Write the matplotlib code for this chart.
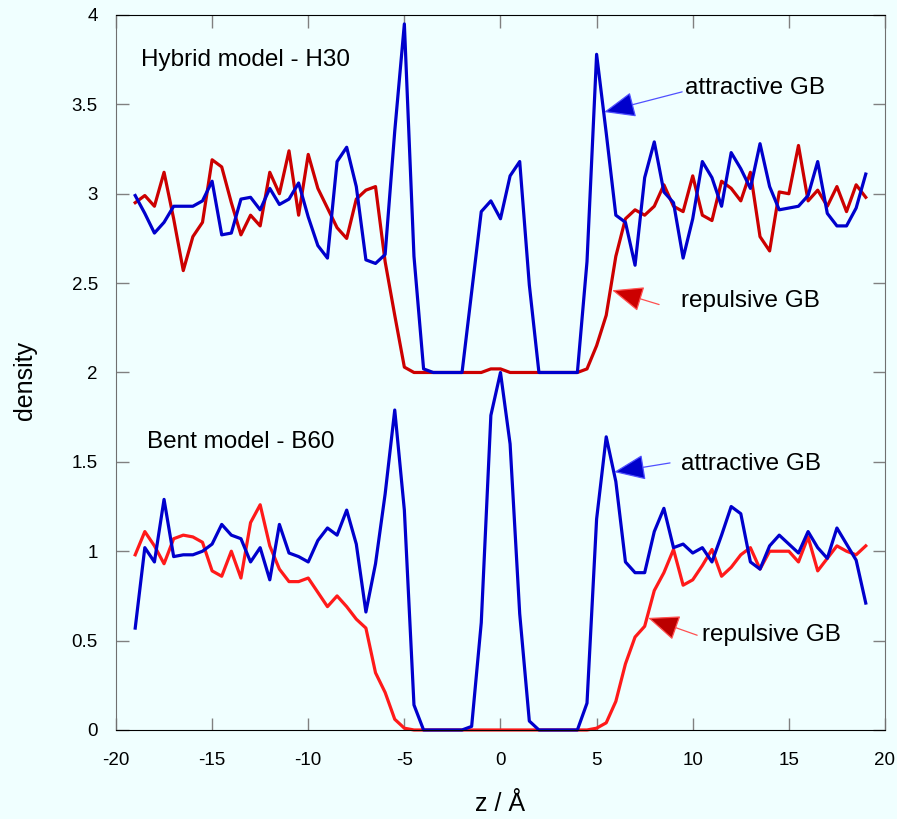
import matplotlib
matplotlib.use("Agg")
import matplotlib.pyplot as plt

plt.rcParams["font.family"] = ["Liberation Sans", "DejaVu Sans"]
plt.rcParams["axes.unicode_minus"] = False

# z positions (Angstrom)
z = [-19.0, -18.5, -18.0, -17.5, -17.0, -16.5, -16.0, -15.5, -15.0, -14.5,
     -14.0, -13.5, -13.0, -12.5, -12.0, -11.5, -11.0, -10.5, -10.0, -9.5,
     -9.0, -8.5, -8.0, -7.5, -7.0, -6.5, -6.0, -5.5, -5.0, -4.5,
     -4.0, -3.5, -3.0, -2.5, -2.0, -1.5, -1.0, -0.5, 0.0, 0.5,
     1.0, 1.5, 2.0, 2.5, 3.0, 3.5, 4.0, 4.5, 5.0, 5.5,
     6.0, 6.5, 7.0, 7.5, 8.0, 8.5, 9.0, 9.5, 10.0, 10.5,
     11.0, 11.5, 12.0, 12.5, 13.0, 13.5, 14.0, 14.5, 15.0, 15.5,
     16.0, 16.5, 17.0, 17.5, 18.0, 18.5, 19.0]

# Hybrid model H30 (shifted up by 2)
h30_repulsive = [2.95, 2.99, 2.93, 3.12, 2.86, 2.57, 2.76, 2.84, 3.19, 3.15,
                 2.95, 2.77, 2.88, 2.82, 3.12, 3.00, 3.24, 2.88, 3.22, 3.03,
                 2.92, 2.81, 2.75, 2.97, 3.02, 3.04, 2.62, 2.32, 2.03, 2.00,
                 2.00, 2.00, 2.00, 2.00, 2.00, 2.00, 2.00, 2.02, 2.02, 2.00,
                 2.00, 2.00, 2.00, 2.00, 2.00, 2.00, 2.00, 2.02, 2.15, 2.32,
                 2.65, 2.86, 2.91, 2.88, 2.93, 3.05, 2.93, 2.90, 3.10, 2.88,
                 2.85, 3.07, 3.03, 2.96, 3.12, 2.76, 2.68, 3.01, 3.00, 3.27,
                 2.96, 3.02, 2.93, 3.04, 2.90, 3.05, 2.98]
h30_attractive = [2.99, 2.89, 2.78, 2.84, 2.93, 2.93, 2.93, 2.96, 3.07, 2.77,
                  2.78, 2.97, 2.98, 2.91, 3.03, 2.94, 2.97, 3.06, 2.87, 2.71,
                  2.64, 3.18, 3.26, 3.04, 2.63, 2.61, 2.66, 3.35, 3.95, 2.65,
                  2.02, 2.00, 2.00, 2.00, 2.00, 2.45, 2.90, 2.96, 2.86, 3.10,
                  3.18, 2.49, 2.00, 2.00, 2.00, 2.00, 2.00, 2.62, 3.78, 3.34,
                  2.88, 2.84, 2.60, 3.09, 3.29, 3.01, 2.95, 2.64, 2.86, 3.18,
                  3.09, 2.93, 3.23, 3.14, 3.03, 3.28, 3.04, 2.91, 2.92, 2.93,
                  2.99, 3.18, 2.89, 2.82, 2.82, 2.92, 3.11]

# Bent model B60
b60_repulsive = [0.98, 1.11, 1.03, 0.93, 1.07, 1.09, 1.08, 1.05, 0.89, 0.86,
                 1.00, 0.85, 1.16, 1.26, 1.03, 0.90, 0.83, 0.83, 0.85, 0.77,
                 0.69, 0.75, 0.69, 0.62, 0.57, 0.32, 0.21, 0.06, 0.01, 0.00,
                 0.00, 0.00, 0.00, 0.00, 0.00, 0.00, 0.00, 0.00, 0.00, 0.00,
                 0.00, 0.00, 0.00, 0.00, 0.00, 0.00, 0.00, 0.00, 0.01, 0.04,
                 0.16, 0.37, 0.52, 0.58, 0.78, 0.88, 1.01, 0.81, 0.84, 0.92,
                 1.01, 0.86, 0.91, 0.98, 1.02, 0.90, 1.00, 1.00, 1.00, 0.94,
                 1.08, 0.89, 0.96, 1.03, 1.00, 0.98, 1.03]
b60_attractive = [0.57, 1.02, 0.94, 1.29, 0.97, 0.98, 0.98, 1.00, 1.04, 1.15,
                  1.09, 1.07, 0.94, 1.02, 0.84, 1.15, 0.99, 0.97, 0.94, 1.06,
                  1.13, 1.09, 1.23, 1.04, 0.66, 0.93, 1.32, 1.79, 1.23, 0.14,
                  0.00, 0.00, 0.00, 0.00, 0.00, 0.02, 0.60, 1.76, 2.00, 1.60,
                  0.65, 0.05, 0.00, 0.00, 0.00, 0.00, 0.00, 0.15, 1.18, 1.64,
                  1.39, 0.94, 0.88, 0.88, 1.11, 1.24, 1.02, 1.04, 0.99, 1.02,
                  0.94, 1.09, 1.25, 1.21, 0.94, 0.90, 1.03, 1.09, 1.04, 0.99,
                  1.11, 1.02, 0.96, 1.13, 1.04, 0.95, 0.71]

x_ticks = [-20, -15, -10, -5, 0, 5, 10, 15, 20]
y_ticks = [0, 0.5, 1, 1.5, 2, 2.5, 3, 3.5, 4]
y_tick_labels = ["0", "0.5", "1", "1.5", "2", "2.5", "3", "3.5", "4"]

bg = "#f0ffff"
fig = plt.figure(figsize=(8.97, 8.19), dpi=100, facecolor=bg)
ax = fig.add_axes([0.1293, 0.1087, 0.8573, 0.873])
ax.set_facecolor(bg)

lw = 2.3
ax.plot(z, h30_repulsive, color="#cc0000", lw=lw, clip_on=False)
ax.plot(z, h30_attractive, color="#0000cc", lw=lw, clip_on=False)
ax.plot(z, b60_repulsive, color="#ff1a1a", lw=lw, clip_on=False)
ax.plot(z, b60_attractive, color="#0000cc", lw=lw, clip_on=False)

ax.set_xlim(-20, 20)
ax.set_ylim(0, 4)
ax.set_xticks(x_ticks)
ax.set_yticks(y_ticks)
ax.set_yticklabels(y_tick_labels)
ax.tick_params(direction="in", length=9, width=1, color="#808080",
               top=True, right=True, labelsize=13.5)
ax.tick_params(axis="y", pad=13)
ax.tick_params(axis="x", pad=16)
for side in ["left", "right"]:
    ax.spines[side].set_color("#707070")
for side in ["top", "bottom"]:
    ax.spines[side].set_color("#000000")

fig.text(25 / 897, 1 - 381 / 819, "density", rotation=90,
         ha="center", va="center", fontsize=18)
fig.text(500 / 897, 1 - 804 / 819, "z / Å", ha="center", va="center",
         fontsize=18)

ax.text(-18.72, 3.75, "Hybrid model - H30", fontsize=17.5, va="center")
ax.text(-18.39, 1.61, "Bent model - B60", fontsize=17.5, va="center")

labels = [
    ("attractive GB", (9.6, 3.59), (5.39, 3.457), (9.45, 3.57), "#5050ff", "#0000cc"),
    ("repulsive GB", (9.38, 2.40), (5.81, 2.46), (8.25, 2.38), "#ff5050", "#cc0000"),
    ("attractive GB", (9.38, 1.49), (5.91, 1.443), (8.82, 1.494), "#5050ff", "#0000cc"),
    ("repulsive GB", (10.47, 0.53), (7.68, 0.627), (10.23, 0.53), "#ff5050", "#bb0000"),
]
for text, pos, tip, tail, lc, hc in labels:
    ax.text(pos[0], pos[1], text, fontsize=17.5, va="center")
    ax.annotate("", xy=tip, xytext=tail,
                arrowprops=dict(arrowstyle="-|>,head_length=1.1,head_width=0.45",
                                lw=0.9, ec=lc, fc=hc, mutation_scale=18,
                                shrinkA=0, shrinkB=0))

fig.savefig("out.png", dpi=100, facecolor=bg)
